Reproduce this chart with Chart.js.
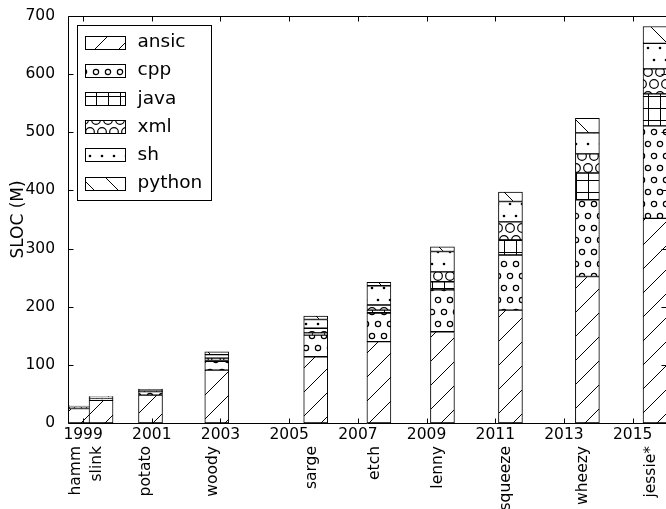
<!DOCTYPE html>
<html>
<head>
<meta charset="utf-8">
<script src="https://cdn.jsdelivr.net/npm/chart.js@4.4.1/dist/chart.umd.min.js"></script>
<style>
html, body { margin: 0; padding: 0; overflow: hidden; background: #fff; }
canvas { display: block; }
</style>
</head>
<body>
<canvas id="slocChart" width="668" height="509"></canvas>
<script>
// debian releases, placed at their release date (fractional year)
const releases = ['hamm', 'slink', 'potato', 'woody', 'sarge', 'etch', 'lenny', 'squeeze', 'wheezy', 'jessie*']
const releaseDates = [1998.56, 1999.18, 2000.62, 2002.55, 2005.43, 2007.27, 2009.12, 2011.10, 2013.34, 2015.31]
const yearTicks = [1999, 2001, 2003, 2005, 2007, 2009, 2011, 2013, 2015]
const slocTicks = [0, 100, 200, 300, 400, 500, 600, 700]

// SLOC in millions, per language
const ansic  = [25, 39, 48, 91, 114, 140, 157, 194, 252, 352]
const cpp    = [2, 3, 6, 15, 37, 49, 72, 95, 132, 159]
const java   = [0.2, 0.2, 0.5, 1.5, 4, 5, 14, 26, 46, 55]
const xml    = [0.5, 0.8, 1, 4, 8, 9, 17, 31, 33, 43]
const sh     = [1.5, 2, 2.5, 6, 15, 33, 35, 35, 36, 44]
const python = [0.3, 0.5, 0.5, 5, 6, 6, 8, 16, 25, 29]

const barYears = 0.684  // bar width in years, bars start at the release date

const canvas = document.getElementById('slocChart')
const ctx = canvas.getContext('2d')

// matplotlib-like hatches, tile = one hatch unit
const U = 72, step = U / 6
function hatch(kind) {
    const c = document.createElement('canvas')
    c.width = U; c.height = U
    const g = c.getContext('2d')
    g.fillStyle = '#fff'
    g.fillRect(0, 0, U, U)
    g.strokeStyle = '#000'
    g.fillStyle = '#000'
    g.lineWidth = 1
    g.beginPath()
    if (kind === '/' || kind === '\\') {
        for (let k = -3; k <= 3; k++) {
            const off = k * 2 * step
            if (kind === '/') { g.moveTo(off, U); g.lineTo(off + U, 0) }
            else { g.moveTo(off, 0); g.lineTo(off + U, U) }
        }
        g.stroke()
    } else if (kind === '+') {
        for (let i = 0; i <= 6; i++) {
            g.moveTo(i * step + 0.5, 0); g.lineTo(i * step + 0.5, U)
            g.moveTo(0, i * step + 0.5); g.lineTo(U, i * step + 0.5)
        }
        g.stroke()
    } else {
        const r = kind === 'o' ? 0.22 * step : kind === 'O' ? 0.36 * step : 0.11 * step
        for (let i = 0; i <= 6; i++) {
            const shift = i % 2 ? step / 2 : 0
            for (let j = -1; j <= 6; j++) {
                const cx = j * step + shift, cy = i * step
                g.moveTo(cx + r, cy)
                g.arc(cx, cy, r, 0, Math.PI * 2)
            }
        }
        if (kind === '.') g.fill()
        else { g.lineWidth = 1.2; g.stroke() }
    }
    return ctx.createPattern(c, 'repeat')
}

const series = [
    ['ansic', ansic, '/'],
    ['cpp', cpp, 'o'],
    ['java', java, '+'],
    ['xml', xml, 'O'],
    ['sh', sh, '.'],
    ['python', python, '\\'],
]

const datasets = series.map(([label, values, h]) => ({
    label: label,
    data: values.map((v, i) => ({ x: releaseDates[i] + barYears / 2, y: v })),
    backgroundColor: hatch(h),
    borderColor: '#000',
    borderWidth: 1,
    borderSkipped: false,
    barThickness: 24,
}))

// box around the plot with inward ticks on all four sides
const framePlugin = {
    id: 'frame',
    afterDatasetsDraw(chart) {
        const { ctx, chartArea: a, scales: { x, y } } = chart
        const L = Math.round(a.left) + 0.5, R = Math.round(a.right) - 0.5
        const T = Math.round(a.top) + 0.5, B = Math.round(a.bottom) + 0.5
        ctx.save()
        ctx.strokeStyle = '#000'
        ctx.lineWidth = 1
        ctx.beginPath()
        ctx.rect(L, T, R - L, B - T)
        yearTicks.forEach(v => {
            const px = Math.round(x.getPixelForValue(v)) + 0.5
            ctx.moveTo(px, B); ctx.lineTo(px, B - 5)
            ctx.moveTo(px, T); ctx.lineTo(px, T + 5)
        })
        slocTicks.forEach(v => {
            const py = Math.round(y.getPixelForValue(v)) + 0.5
            ctx.moveTo(L, py); ctx.lineTo(L + 5, py)
            ctx.moveTo(R, py); ctx.lineTo(R - 5, py)
        })
        ctx.stroke()
        ctx.restore()
    }
}

// legend box in the upper left corner of the plot
const legendPlugin = {
    id: 'boxLegend',
    afterDraw(chart) {
        const { ctx, chartArea: a } = chart
        const bx = Math.round(a.left) + 9.5, by = Math.round(a.top) + 9.5
        const bw = 134, bh = 175
        ctx.save()
        ctx.fillStyle = '#fff'
        ctx.fillRect(bx, by, bw, bh)
        ctx.strokeStyle = '#000'
        ctx.lineWidth = 1
        ctx.strokeRect(bx, by, bw, bh)
        ctx.font = '18.5px "DejaVu Sans"'
        ctx.textBaseline = 'middle'
        chart.data.datasets.forEach((ds, i) => {
            const cy = by + 17 + i * 28.1
            const py = Math.round(cy - 6.5) + 0.5
            ctx.fillStyle = ds.backgroundColor
            ctx.fillRect(bx + 8, py, 40, 13)
            ctx.strokeRect(bx + 8, py, 40, 13)
            ctx.fillStyle = '#000'
            ctx.fillText(ds.label, bx + 60, cy)
        })
        ctx.restore()
    }
}

// keep the axes from shrinking the plot for labels near the edges
const noPad = axis => { axis.paddingLeft = 0; axis.paddingRight = 0 }

Chart.defaults.font.family = 'DejaVu Sans'
Chart.defaults.color = '#000'

new Chart(ctx, {
    type: 'bar',
    data: { datasets: datasets },
    options: {
        responsive: false,
        animation: false,
        layout: { padding: { top: 16, right: 1, left: 0, bottom: 0 } },
        plugins: { legend: { display: false }, tooltip: { enabled: false } },
        scales: {
            x: {
                type: 'linear',
                position: 'bottom',
                stacked: true,
                offset: false,
                weight: 0,
                min: 1998.56,
                max: 2016.0,
                grid: { display: false, drawTicks: false },
                border: { display: false },
                afterBuildTicks: axis => { axis.ticks = yearTicks.map(v => ({ value: v })) },
                afterFit: axis => { axis.height = 20; noPad(axis) },
                ticks: {
                    autoSkip: false,
                    maxRotation: 0,
                    padding: 3,
                    font: { size: 15.5 },
                    callback: v => String(v),
                },
            },
            names: {
                type: 'linear',
                position: 'bottom',
                offset: false,
                weight: 1,
                min: 1998.56,
                max: 2016.0,
                grid: { display: false, drawTicks: false },
                border: { display: false },
                afterBuildTicks: axis => { axis.ticks = releaseDates.map(d => ({ value: d + 0.22 })) },
                afterFit: axis => { axis.height = 66; noPad(axis) },
                ticks: {
                    autoSkip: false,
                    minRotation: 90,
                    maxRotation: 90,
                    padding: 3,
                    font: { size: 15.5 },
                    callback: (v, i) => releases[i],
                },
            },
            y: {
                stacked: true,
                min: 0,
                max: 700,
                grid: { display: false },
                border: { display: false },
                afterBuildTicks: axis => { axis.ticks = slocTicks.map(v => ({ value: v })) },
                afterFit: axis => { axis.width = 68 },
                ticks: { padding: 5, font: { size: 15.5 } },
                title: {
                    display: true,
                    text: 'SLOC (M)',
                    font: { size: 17 },
                    padding: { top: 8, bottom: 0 },
                },
            },
        },
    },
    plugins: [framePlugin, legendPlugin],
})
</script>
</body>
</html>
